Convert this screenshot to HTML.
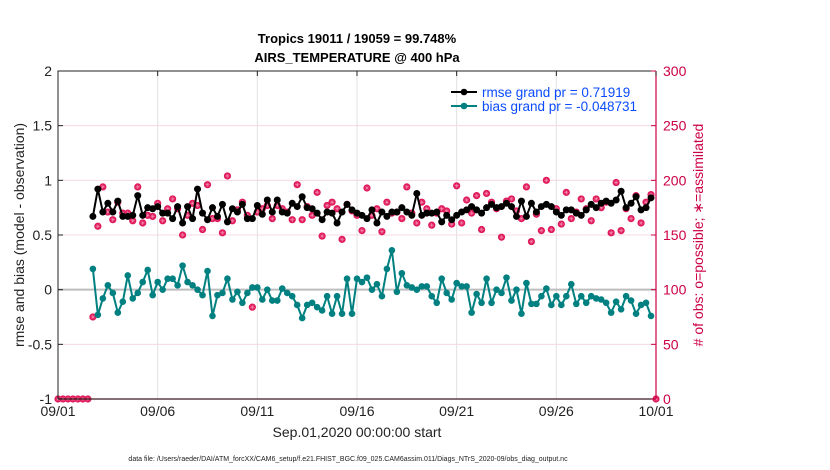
<!DOCTYPE html>
<html><head><meta charset="utf-8"><style>
body{margin:0;background:#fff;}
svg{display:block;font-family:"Liberation Sans",sans-serif;}
</style></head><body>
<svg id="chart" width="830" height="470" viewBox="0 0 830 470">
<g id="grid"></g>
<g id="series"></g>
<g id="axes"></g>
</svg>
<script>
const rmseVals=[0.67,0.92,0.71,0.79,0.71,0.81,0.67,0.67,0.68,0.86,0.68,0.75,0.74,0.76,0.70,0.70,0.65,0.76,0.61,0.76,0.65,0.92,0.70,0.64,0.75,0.67,0.78,0.62,0.74,0.71,0.78,0.65,0.65,0.77,0.69,0.82,0.71,0.82,0.71,0.70,0.79,0.76,0.85,0.75,0.74,0.70,0.64,0.71,0.70,0.61,0.71,0.78,0.73,
0.70,0.68,0.65,0.73,0.61,0.71,0.67,0.71,0.71,0.75,0.71,0.68,0.88,0.68,0.70,0.70,0.71,0.62,0.68,0.64,0.68,0.71,0.73,0.76,0.73,0.70,0.75,0.78,0.75,0.76,0.79,0.76,0.67,0.81,0.67,0.79,0.71,0.76,0.78,0.76,0.71,0.68,0.73,0.73,0.70,0.68,0.73,0.78,0.75,0.79,0.81,0.79,0.82,0.90,0.75,0.79,0.85,0.73,0.75,0.84];
const biasVals=[0.19,-0.23,-0.08,0.04,-0.03,-0.21,-0.11,0.13,-0.08,-0.03,0.07,0.18,-0.05,0.07,0.00,0.10,0.10,0.04,0.22,0.07,0.04,0.00,-0.05,0.17,-0.24,-0.05,-0.03,0.10,-0.09,-0.02,-0.12,-0.03,0.02,0.02,-0.09,0.00,-0.10,-0.10,0.01,-0.03,-0.06,-0.14,-0.26,-0.14,-0.12,-0.16,-0.19,-0.06,-0.22,-0.06,-0.22,0.10,-0.22,
0.10,0.07,0.11,0.00,0.05,-0.06,0.19,0.36,-0.02,0.15,0.04,0.02,0.00,0.03,0.03,-0.06,-0.12,0.10,-0.03,-0.09,0.06,0.03,0.03,-0.21,-0.04,-0.12,0.10,-0.12,0.00,-0.03,0.11,-0.10,0.00,-0.22,0.06,-0.13,-0.13,-0.06,0.01,-0.14,-0.06,-0.14,-0.06,0.05,-0.13,-0.06,-0.12,-0.06,-0.08,-0.09,-0.12,-0.21,-0.11,-0.18,-0.06,-0.10,-0.22,-0.14,-0.12,-0.24];
const obsVals=[0,0,0,0,0,0,0,75,158,194,171,164,180,170,170,163,194,161,168,167,179,163,174,183,174,150,168,179,177,155,196,165,165,152,204,163,173,180,168,84,171,174,177,165,177,174,171,164,196,164,176,168,189,149,177,180,174,146,178,172,
168,154,193,168,174,153,180,170,171,165,194,170,161,180,174,159,170,174,172,160,195,161,182,170,186,155,188,180,174,148,181,183,172,165,194,144,169,154,200,155,174,160,189,165,171,183,174,163,183,175,180,152,198,154,174,165,186,161,180,187,0];
const seriesStartDay=1.75, obsStartDay=0, stepDay=0.25;
const xTickLabels=["09/01","09/06","09/11","09/16","09/21","09/26","10/01"];
const yTickLabels=["-1","-0.5","0","0.5","1","1.5","2"];
const y2TickLabels=["0","50","100","150","200","250","300"];

const X0=58,X1=656,Y0=399,Y1=71;
const xs=d=>X0+(d/30)*(X1-X0);
const ys=v=>Y0-(v+1)/3*(Y0-Y1);
const ys2=v=>Y0-v/300*(Y0-Y1);
const NS="http://www.w3.org/2000/svg";
function mk(p,t,a){const e=document.createElementNS(NS,t);for(const k in a)e.setAttribute(k,a[k]);p.appendChild(e);return e;}
const grid=document.getElementById('grid'),ser=document.getElementById('series'),ax=document.getElementById('axes'),svg=document.getElementById('chart');

let t=mk(svg,'text',{x:357,y:43,'text-anchor':'middle','font-size':13,'font-weight':'bold'});t.textContent="Tropics 19011 / 19059 = 99.748%";


t=mk(svg,'text',{x:357,y:62,'text-anchor':'middle','font-size':13,'font-weight':'bold'});t.textContent="AIRS_TEMPERATURE @ 400 hPa";



xTickLabels.forEach((l,i)=>{const x=xs(i*5);
 const g=mk(grid,'line',{x1:x,x2:x,y1:Y1,y2:Y0,stroke:'#e2e2e2','stroke-width':1});
 
 
});
y2TickLabels.forEach((l,i)=>{const y=ys2(+l);
 const g=mk(grid,'line',{x1:X0,x2:X1,y1:y,y2:y,stroke:'#f6d8e3','stroke-width':1});
 
 
});
const zl=mk(grid,'line',{x1:X0,x2:X1,y1:ys(0),y2:ys(0),stroke:'#bdbdbd','stroke-width':2});



obsVals.forEach((v,i)=>{const x=xs(obsStartDay+i*stepDay),y=ys2(v);
 const g=mk(ser,'g',{});
 
 
 mk(g,'circle',{cx:x,cy:y,r:3.6,fill:'#e0185a'});
 mk(g,'path',{d:`M${x-2.2} ${y}H${x+2.2}M${x} ${y-2.2}V${y+2.2}M${x-1.5} ${y-1.5}L${x+1.5} ${y+1.5}M${x-1.5} ${y+1.5}L${x+1.5} ${y-1.5}`,stroke:'#f59ab5','stroke-width':0.5});
});

function line(vals,color,name,r){
 const pts=vals.map((v,i)=>[xs(seriesStartDay+i*stepDay),ys(v)]);
 const p=mk(ser,'polyline',{points:pts.map(p=>p.join(',')).join(' '),fill:'none',stroke:color,'stroke-width':2,'stroke-linejoin':'round'});
 
 
 pts.forEach(q=>{const c=mk(ser,'circle',{cx:q[0],cy:q[1],r:r,fill:color});
  
  
 });
}
line(biasVals,'#008080','bias',3.3);
line(rmseVals,'#000','rmse',3.5);

const fr=mk(ax,'path',{d:`M${X0} ${Y0}V${Y1}H${X1}`,fill:'none',stroke:'#222','stroke-width':1});


const bx=mk(ax,'line',{x1:X0,x2:X1,y1:Y0,y2:Y0,stroke:'#3a1a22','stroke-width':1.2});


const ry=mk(ax,'line',{x1:X1,x2:X1,y1:Y1,y2:Y0,stroke:'#cc0044','stroke-width':1.2});


xTickLabels.forEach((l,i)=>{const x=xs(i*5);
 mk(ax,'line',{x1:x,x2:x,y1:Y1,y2:Y1+5,stroke:'#222'});
 const tx=mk(ax,'text',{x:x,y:416,'text-anchor':'middle','font-size':14,fill:'#222'});tx.textContent=l;
 
 
});
yTickLabels.forEach((l,i)=>{const y=ys(+l);
 mk(ax,'line',{x1:X0,x2:X0+5,y1:y,y2:y,stroke:'#222'});
 const tx=mk(ax,'text',{x:X0-6,y:y+5,'text-anchor':'end','font-size':14,fill:'#222'});tx.textContent=l;
 
 
});
y2TickLabels.forEach((l,i)=>{const y=ys2(+l);
 mk(ax,'line',{x1:X1-5,x2:X1,y1:y,y2:y,stroke:'#cc0044'});
 const tx=mk(ax,'text',{x:X1+7,y:y+5,'font-size':14,fill:'#cc0044'});tx.textContent=l;
 
 
});
t=mk(svg,'text',{x:357,y:437,'text-anchor':'middle','font-size':14,fill:'#222'});t.textContent="Sep.01,2020 00:00:00 start";


t=mk(svg,'text',{x:0,y:0,'text-anchor':'middle','font-size':14,fill:'#222',transform:'translate(24,235) rotate(-90)'});t.textContent="rmse and bias (model - observation)";


t=mk(svg,'text',{x:0,y:0,'text-anchor':'middle','font-size':14,fill:'#cc0044',transform:'translate(703,235) rotate(-90)'});t.textContent="# of obs: o=possible; \u2217=assimilated";


t=mk(svg,'text',{x:348,y:461,'text-anchor':'middle','font-size':7,fill:'#222'});t.textContent="data file: /Users/raeder/DAI/ATM_forcXX/CAM6_setup/f.e21.FHIST_BGC.f09_025.CAM6assim.011/Diags_NTrS_2020-09/obs_diag_output.nc";



const lg=mk(svg,'g',{});


[['#000','rmse grand pr = 0.71919',97],['#008080','bias grand pr = -0.048731',111]].forEach(a=>{
 const e=mk(lg,'g',{});
 
 
 mk(e,'line',{x1:451,x2:477,y1:a[2]-5,y2:a[2]-5,stroke:a[0],'stroke-width':2});
 mk(e,'circle',{cx:464,cy:a[2]-5,r:3.3,fill:a[0]});
 const tx=mk(e,'text',{x:482,y:a[2],'font-size':13.5,fill:'#0a4bff'});tx.textContent=a[1];
});
</script>
</body></html>
